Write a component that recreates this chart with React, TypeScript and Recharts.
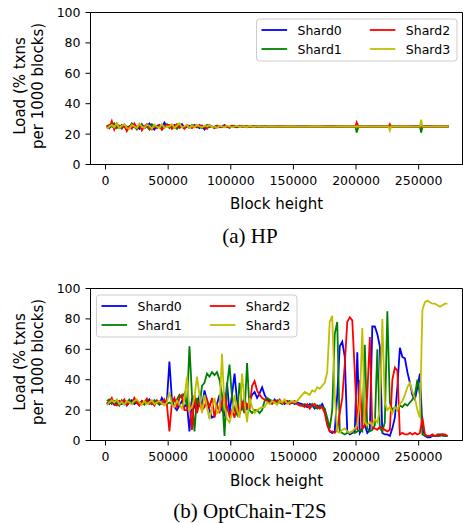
import React from 'react';
import { LineChart, Line, XAxis, YAxis, ReferenceArea } from 'recharts';

const FONT = '"DejaVu Sans", sans-serif';
const SERIF = '"Liberation Serif", "Times New Roman", serif';
const COLORS = ['#0000ff', '#008000', '#ff0000', '#bfbf00'];
const SERIES_KEYS = ['s0', 's1', 's2', 's3'];
const SERIES_NAMES = ['Shard0', 'Shard1', 'Shard2', 'Shard3'];
const X_TICKS = [0, 50000, 100000, 150000, 200000, 250000];
const Y_TICKS = [0, 20, 40, 60, 80, 100];
const X_DOMAIN = [-12000, 285000];

// ---------- (a) HP ----------
const hpBlocksK = [
  1, 3, 5, 7, 9, 11, 13, 15, 17, 19, 21, 23, 25, 27, 29, 31, 33, 35, 37, 39,
  41, 43, 45, 47, 49, 51, 53, 55, 57, 59, 61, 63, 65, 67, 69, 71, 73, 75, 77, 79,
  81, 83, 85, 87, 89, 91, 93, 95, 97, 99, 101, 103, 105, 107, 109, 111, 113, 115, 117, 119,
  121, 123, 125, 127, 129,
  132, 138, 144, 150, 156, 162, 168, 174, 180, 186, 192, 198, 199.5, 200.5, 202, 208, 214, 220, 226, 227,
  228, 234, 240, 246, 251, 252, 253, 258, 264, 270, 274,
];
const hpShard0 = [
  25, 24, 26, 23.5, 25.5, 24, 26, 25, 23, 25, 26, 24.5, 25, 23.5, 26.5, 24, 25, 27, 24.5, 23, 25.5, 26, 24, 27.5, 25,
  25.5, 24.5, 26, 24, 25, 26.5, 24, 25, 25.5, 24.5, 26, 25, 24, 25.5, 23, 25, 26, 24.5, 25, 25.5,
  24.5, 25, 26, 25, 24.5, 25.5, 25, 24.5, 25, 25.5, 25, 24.5, 25.2, 25, 24.8, 25.3, 25, 24.7, 25.2, 25,
  25, 25.1, 24.9, 25, 25.1, 25, 24.9, 25, 25.1, 25, 24.9, 25, 25, 25, 25, 25.1, 24.9, 25, 25, 25,
  25, 25, 24.9, 25, 25, 24.5, 25, 25, 25.1, 25, 25,
];
const hpShard1 = [
  24.5, 26, 25, 27, 24, 25.5, 23.5, 26, 25, 24, 27, 25, 23, 25.5, 26, 24, 25, 23, 26.5, 25, 24, 26, 23, 25, 26.5,
  24, 26, 25, 23.5, 26.5, 25, 24.5, 25.5, 24, 26, 25, 24.5, 25.5, 24, 25, 26, 24.5, 25, 24, 25.5,
  25, 24.5, 25.5, 25, 24, 25, 25.5, 24.5, 25.2, 24.8, 25, 25.3, 24.7, 25, 25.2, 24.8, 25, 25.3, 24.9, 25,
  25.1, 24.9, 25, 25.1, 24.9, 25, 25.1, 24.9, 25, 25.1, 25, 24.9, 25, 21, 25, 25, 25.1, 24.9, 25, 24.5,
  25, 25, 25.1, 24.9, 25, 21, 25, 25, 24.9, 25, 25,
];
const hpShard2 = [
  26, 24, 28.5, 23, 27, 25, 24, 26, 22, 25, 23.5, 27, 24, 26, 22.5, 25, 26.5, 24, 23, 26, 24, 25.5, 23, 24.5, 26,
  26, 23.5, 25, 26.5, 24, 25, 23.5, 26, 25, 24, 25.5, 24.5, 26, 25, 24.5, 23.5, 25.5, 25, 24, 25.5,
  25, 24.5, 25.5, 24.5, 25, 25.5, 24.5, 25, 25.5, 24.8, 25.2, 25, 24.7, 25.3, 25, 24.8, 25.2, 25, 24.9, 25.1,
  24.9, 25, 25.1, 24.9, 25, 25.1, 24.9, 25, 25, 24.9, 25.1, 25, 25, 27.8, 25, 24.9, 25, 25.1, 25, 26.5,
  25, 24.9, 25, 25.1, 25, 25.5, 25, 25, 25, 25.1, 25,
];
const hpShard3 = [
  23.5, 25, 26, 24.5, 27, 24, 25.5, 26.5, 24, 23.5, 26, 25, 24, 27, 25, 24, 26, 25.5, 23.5, 26, 25, 24, 26.5, 24, 25,
  25, 26.5, 24, 25.5, 27, 24.5, 25, 26, 24, 25.5, 24.5, 26, 25, 24.5, 25.5, 25, 26, 24.5, 25, 24,
  25.5, 25, 24.5, 25.5, 25, 24.5, 25, 25.5, 24.8, 25.2, 25, 24.7, 25.3, 25, 24.8, 25.2, 25, 25.1, 24.9, 25,
  25, 24.9, 25.1, 25, 24.9, 25, 25.1, 25, 24.9, 25, 25, 25.1, 25, 25, 25, 25, 24.9, 25, 25, 22.3,
  25, 25.1, 25, 24.9, 25, 29.5, 25, 24.9, 25, 25, 25,
];

// ---------- (b) OptChain-T2S ----------
const optBlocksK = [
  1, 3, 5, 7, 9, 11, 13, 15, 17, 19, 21, 23, 25, 27, 29, 31, 33, 35, 37, 39,
  41, 43, 45, 47, 49, 51, 53, 55, 57, 59, 61, 63, 65, 67, 69, 71, 73, 75, 77, 79,
  81, 83, 85, 87, 89, 91, 93, 95, 97, 99, 101, 103, 105, 107, 109, 111, 113, 115, 117, 119,
  121, 123, 125, 127, 129, 131, 133, 135, 137, 139, 141, 143, 145, 147, 149, 151, 153, 155, 157, 159,
  161, 163, 165, 167, 169, 171, 173, 175, 177, 179, 181, 183, 185, 187, 189, 191, 193, 195, 197, 199,
  201, 203, 205, 207, 209, 211, 213, 215, 217, 219, 221, 223, 225, 227, 229, 231, 233, 235, 237, 239,
  241, 243, 245, 247, 249, 251, 253, 255, 257, 259, 261, 263, 265, 267, 269, 271, 273,
];
const optShard0 = [
  25, 24, 26, 23.5, 25, 26, 24, 25.5, 23, 25, 26.5, 24, 25, 23.5, 26, 24.5, 25, 27, 24, 25.5, 26, 24, 28, 25, 26,
  52, 27, 22, 20, 23, 26, 22, 24, 6, 28, 22, 20, 30, 22, 33, 26, 20, 15, 16, 24,
  30, 20, 17, 38, 18, 30, 44, 26, 18, 22, 28, 20, 26, 30, 32, 28, 31, 35, 30, 27,
  26, 25, 27, 24.5, 26, 25, 24, 26, 25, 25.5, 24, 25, 24.5,
  24, 23, 22, 24, 23, 21, 23, 22, 24, 20, 12,
  6, 5, 6, 30, 62, 65, 55, 6, 4, 5, 6, 58, 5, 8, 10, 5, 7, 75, 75, 70, 62, 5, 4, 4,
  3, 8, 15, 35, 61, 55, 54, 45, 38, 30, 27, 35, 44, 8, 3, 2, 2, 3, 3, 3, 3, 4, 3, 3,
];
const optShard1 = [
  26, 27, 24, 26, 25, 23, 26.5, 24, 25, 27, 24.5, 25, 26, 24, 25.5, 23.5, 26, 25, 24, 26.5, 25, 23.5, 25, 26, 24,
  25, 24, 26, 27, 30, 28, 31, 22, 62, 30, 6, 28, 22, 36, 38, 44, 42, 45, 43, 45,
  40, 30, 3, 36, 50, 28, 20, 17, 38, 22, 18, 51, 20, 18, 20, 20, 18, 20, 26, 28,
  27, 26, 25, 26.5, 25, 24, 26, 25, 26, 24.5, 25, 24, 23.5,
  23, 24, 23, 22, 24, 22, 21, 23, 22, 21, 15,
  8, 20, 70, 78, 6, 5, 4, 5, 5, 6, 5, 6, 7, 6, 63, 8, 6, 7, 10, 60, 8, 6, 12, 85,
  25, 20, 22, 20, 23, 22, 24, 23, 25, 27, 30, 40, 30, 4, 3, 3, 3, 3, 3, 4, 4, 3, 3, 3,
];
const optShard2 = [
  24, 25.5, 28, 24, 23, 26, 25, 27, 23.5, 25, 24, 28, 25, 23, 26, 25, 27.5, 24, 25, 23, 26.5, 25, 24, 27, 23.5,
  6, 25, 28, 22, 28, 30, 20, 20, 25, 7, 30, 18, 25, 20, 22, 27, 22, 28, 15, 24,
  18, 25, 30, 22, 16, 20, 15, 24, 17, 26, 20, 24, 22, 36, 39, 33, 30, 28, 27, 26,
  25, 24, 26, 25, 27, 24.5, 25, 26, 24, 25, 26, 24, 23,
  23, 22, 24, 21, 23, 24, 22, 21, 22, 18, 10,
  6, 6, 5, 7, 18, 28, 50, 78, 81, 79, 45, 7, 40, 8, 10, 30, 68, 8, 8, 7, 9, 8, 7, 6,
  7, 40, 48, 46, 4, 5, 4, 4, 5, 4, 5, 4, 5, 15, 4, 3, 3, 4, 3, 3, 4, 4, 4, 3,
];
const optShard3 = [
  23, 25, 26.5, 25, 27, 24, 25.5, 23.5, 26, 25, 24, 26, 27, 25, 23.5, 26, 24, 25, 26.5, 24, 25, 26, 24.5, 23, 25,
  32, 24, 22, 26, 24, 21, 27, 42, 20, 22, 28, 42, 30, 18, 30, 22, 14, 22, 28, 18,
  20, 57, 22, 14, 12, 18, 30, 20, 15, 44, 25, 12, 28, 22, 18, 20, 21, 22, 22, 25,
  24, 26, 25, 23.5, 26, 25, 27, 24, 25, 26, 25, 26, 28,
  30, 32, 31, 30, 33, 32, 35, 34, 36, 38, 45,
  78, 82, 30, 6, 5, 7, 8, 6, 5, 6, 8, 10, 25, 74, 12, 10, 12, 10, 14, 12, 20, 80, 25, 20,
  22, 18, 22, 20, 24, 26, 30, 35, 38, 32, 28, 20, 15, 86, 91, 92, 91, 90, 90, 89, 88, 89, 90, 90,
];

function buildRows(blocksK: number[], s0: number[], s1: number[], s2: number[], s3: number[]) {
  return blocksK.map((k, i) => ({ x: k * 1000, s0: s0[i], s1: s1[i], s2: s2[i], s3: s3[i] }));
}

const hpRows = buildRows(hpBlocksK, hpShard0, hpShard1, hpShard2, hpShard3);
const optRows = buildRows(optBlocksK, optShard0, optShard1, optShard2, optShard3);

const tickStyle = { fontSize: 12.5, fill: '#000', fontFamily: FONT };

function Panel({ rows }: { rows: any[] }) {
  return (
    <LineChart width={463} height={230} data={rows} margin={{ top: 12.5, right: 0.5, bottom: 35.5, left: 30.5 }}>
      <ReferenceArea
        x1={X_DOMAIN[0]}
        x2={X_DOMAIN[1]}
        y1={0}
        y2={100}
        fill="none"
        fillOpacity={0}
        stroke="#000"
        strokeWidth={1}
        ifOverflow="visible"
      />
      <XAxis
        type="number"
        dataKey="x"
        domain={X_DOMAIN}
        ticks={X_TICKS}
        interval={0}
        allowDataOverflow
        height={30}
        tickSize={5}
        tickMargin={7}
        tick={tickStyle}
        stroke="#000"
      />
      <YAxis
        type="number"
        domain={[0, 100]}
        ticks={Y_TICKS}
        interval={0}
        allowDataOverflow
        width={60}
        tickSize={5}
        tickMargin={5}
        tick={tickStyle}
        stroke="#000"
      />
      {SERIES_KEYS.map((k, i) => (
        <Line
          key={k}
          type="linear"
          dataKey={k}
          name={SERIES_NAMES[i]}
          stroke={COLORS[i]}
          strokeWidth={1.8}
          dot={false}
          activeDot={false}
          isAnimationActive={false}
        />
      ))}
    </LineChart>
  );
}

function LegendBox({ left, top }: { left: number; top: number }) {
  const cols = [left + 5, left + 113.3];
  const rowsY = [top + 11, top + 30];
  const order = [
    [0, 0],
    [0, 1],
    [1, 0],
    [1, 1],
  ];
  return (
    <g>
      <rect x={left} y={top} width={200.5} height={42} rx={3} ry={3} fill="#fff" fillOpacity={0.8} stroke="#cccccc" strokeWidth={1} />
      {SERIES_NAMES.map((name, i) => {
        const [c, r] = order[i];
        const hx = cols[c];
        const y = rowsY[r];
        return (
          <g key={name}>
            <line x1={hx} x2={hx + 25.6} y1={y} y2={y} stroke={COLORS[i]} strokeWidth={1.8} />
            <text x={hx + 36} y={y + 4.5} fontSize={12.5} fontFamily={FONT} fill="#000">
              {name}
            </text>
          </g>
        );
      })}
    </g>
  );
}

function YTitle({ cy }: { cy: number }) {
  return (
    <g fontFamily={FONT} fontSize={15} fill="#000" textAnchor="middle">
      <text x={25} y={cy} transform={`rotate(-90, 25, ${cy})`}>Load (% txns</text>
      <text x={42.5} y={cy} transform={`rotate(-90, 42.5, ${cy})`}>per 1000 blocks)</text>
    </g>
  );
}

export default function App() {
  return (
    <div style={{ position: 'absolute', left: 0, top: 0, width: 463, height: 523, background: '#fff' }}>
      <div style={{ position: 'absolute', left: 0, top: 0 }}>
        <Panel rows={hpRows} />
      </div>
      <div style={{ position: 'absolute', left: 0, top: 276 }}>
        <Panel rows={optRows} />
      </div>
      <svg
        width={463}
        height={523}
        style={{ position: 'absolute', left: 0, top: 0, pointerEvents: 'none' }}
      >
        <YTitle cy={86} />
        <YTitle cy={362} />
        <text x={276.5} y={209} textAnchor="middle" fontFamily={FONT} fontSize={15} fill="#000">
          Block height
        </text>
        <text x={276.5} y={485.5} textAnchor="middle" fontFamily={FONT} fontSize={15} fill="#000">
          Block height
        </text>
        <LegendBox left={256.5} top={19} />
        <LegendBox left={96.5} top={295} />
        <text x={250} y={242.5} textAnchor="middle" fontFamily={SERIF} fontSize={21} fill="#000">
          (a) HP
        </text>
        <text x={250} y={517.5} textAnchor="middle" fontFamily={SERIF} fontSize={21} fill="#000">
          (b) OptChain-T2S
        </text>
      </svg>
    </div>
  );
}
